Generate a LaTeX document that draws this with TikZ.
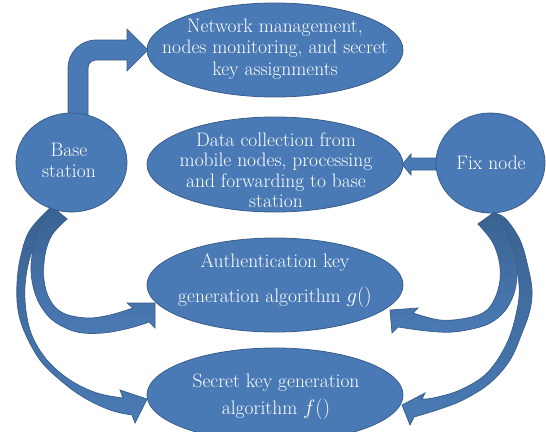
\documentclass[tikz,border=0pt]{standalone}
\usetikzlibrary{shapes.geometric}
\definecolor{shapefill}{RGB}{74,122,181}
\definecolor{shapeedge}{RGB}{56,93,138}
\definecolor{arrowdark}{RGB}{58,99,145}
\tikzset{
  blob/.style={ellipse, fill=shapefill, draw=shapeedge, line width=0.8pt, inner sep=0pt},
  lbl/.style={text=white, align=center, inner sep=0pt},
  blockarrow/.style={fill=shapefill, draw=shapeedge, line width=0.7pt, line join=miter},
  bendarrow/.style={draw=shapeedge, line width=0.7pt, top color=arrowdark, middle color=arrowdark, bottom color=shapefill},
}
\begin{document}
\begin{tikzpicture}[x=1pt,y=-1pt]
\useasboundingbox (0,0) rectangle (546,431);
\clip (0,0) rectangle (546,431);

% ellipses
\node[blob, minimum width=256pt, minimum height=94pt] (e1) at (275,50) {};
\node[blob, minimum width=256pt, minimum height=95pt] (e2) at (275,164.5) {};
\node[blob, minimum width=256pt, minimum height=94pt] (e3) at (275,285) {};
\node[blob, minimum width=256pt, minimum height=94pt] (e4) at (275,395) {};

\node[lbl, font=\fontsize{19.5}{21.5}\selectfont] (t1) at (275,49) {Network management,\\nodes monitoring, and secret\\key assignments};
\node[lbl, font=\fontsize{19.5}{20.5}\selectfont] (t2) at (276,170) {Data collection from\\mobile nodes, processing\\and forwarding to base\\station};
\node[lbl, font=\fontsize{19.5}{35}\selectfont] (t3) at (275,281) {Authentication key\\generation algorithm $g()$};
\node[lbl, font=\fontsize{19.5}{27}\selectfont] (t4) at (276,397) {Secret key generation\\algorithm $f()$};

% bent arrow base station -> network management
\path[blockarrow] (68,130) -- (68,68) .. controls (68,52.5) and (80.5,40) .. (96,40)
  -- (127,40) -- (127,29) -- (148,50) -- (127,71) -- (127,60) -- (96,60)
  .. controls (91.6,60) and (88,63.6) .. (88,68) -- (88,130) -- cycle;

% fix node -> data collection
\path[blockarrow] (440,158) -- (411,158) -- (411,154) -- (402,164.5) -- (411,175) -- (411,170) -- (440,170) -- cycle;

% left: base station -> secret key
\path[bendarrow] (50,208) -- plot[smooth, tension=0.6] coordinates {(50,208) (30,230) (21,255) (17,283) (18,310) (25,333) (40,360) (60,380) (83,397) (110,410) (132,415)}
  -- (135,423) -- (147,399) -- (120,390) --
  plot[smooth, tension=0.6] coordinates {(123,398) (97,393) (70,380) (47,360) (31,333) (25,300) (27,270) (35,245) (50,226) (67,219)} -- cycle;
% left: base station -> authentication
\path[bendarrow] (54,208) -- plot[smooth, tension=0.6] coordinates {(54,208) (42,222) (35,240) (31,267) (34,290) (42,308) (55,322) (77,332) (103,333) (130,328) (149,322)}
  -- (155,328) -- (155,303) -- (127,303) --
  plot[smooth, tension=0.6] coordinates {(133,308) (110,315) (87,318) (63,313) (50,300) (44,280) (45,255) (52,235) (67,219)} -- cycle;

% right: fix node -> secret key
\path[bendarrow] (493,213) -- plot[smooth, tension=0.6] coordinates {(493,213) (505,218) (520,240) (528,267) (532,290) (530,310) (522,333) (510,360) (490,383) (463,400) (437,410) (414,417)}
  -- (410,425) -- (402,405) -- (425,393) --
  plot[smooth, tension=0.6] coordinates {(422,399) (433,398) (460,390) (487,373) (507,343) (517,310) (519,285) (513,255) (500,232) (478,224)} -- cycle;
% right: fix node -> authentication
\path[bendarrow] (495,213) -- plot[smooth, tension=0.6] coordinates {(495,213) (505,228) (512,245) (517,267) (515,290) (507,308) (495,320) (480,327) (453,332) (427,331) (398,327)}
  -- (392,333) -- (390,310) -- (418,308) --
  plot[smooth, tension=0.6] coordinates {(413,313) (440,320) (467,318) (487,310) (498,290) (500,267) (493,243) (478,224)} -- cycle;

% circles
\node[blob, minimum width=111pt, minimum height=99pt] (bs) at (71.5,162.5) {};
\node[blob, minimum width=109pt, minimum height=100pt] (fx) at (490.5,163) {};
\node[lbl, font=\fontsize{19.5}{21}\selectfont] (tbs) at (69,160) {Base\\station};
\node[lbl, font=\fontsize{19.5}{21}\selectfont] (tfx) at (491,163) {Fix node};
\end{tikzpicture}
\end{document}
